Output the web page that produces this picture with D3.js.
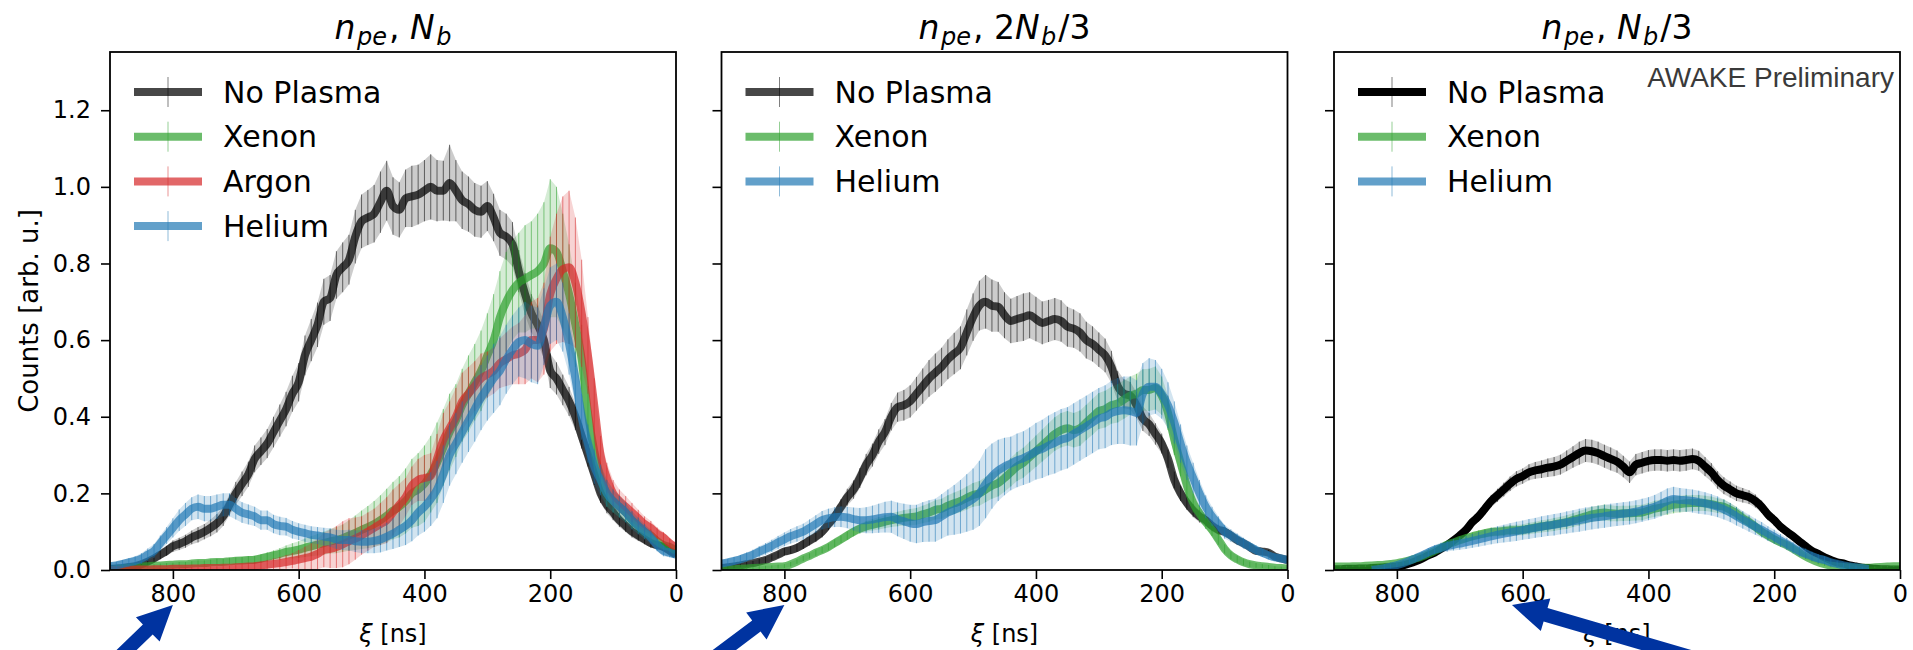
<!DOCTYPE html>
<html><head><meta charset="utf-8">
<script src="https://cdn.jsdelivr.net/npm/d3@7"></script>
<style>html,body{margin:0;padding:0;background:#fff;} svg{display:block;}</style>
</head><body><svg id="c" width="1913" height="650"></svg>
<script>
// ---------- DATA ----------
const XI = [900,890,880,870,860,850,840,830,820,810,
 800,790,780,770,760,750,740,730,720,710,
 700,690,680,670,660,650,640,630,620,610,
 600,590,580,570,560,550,540,530,520,510,
 500,490,480,470,460,450,440,430,420,410,
 400,390,380,370,360,350,340,330,320,310,
 300,290,280,270,260,250,240,230,220,210,
 200,190,180,170,160,150,140,130,120,110,
 100,90,80,70,60,50,40,30,20,10,0];

const X_TICKS = [800,600,400,200,0];
const Y_TICKS = [0,0.2,0.4,0.6,0.8,1.0,1.2];
const Y_TICK_LABELS = ["0.0","0.2","0.4","0.6","0.8","1.0","1.2"];

// Panel 1 (n_pe, N_b)
const NP1 = [.003,.004,.005,.008,.01,.015,.022,.03,.04,.05,
 .062,.068,.075,.085,.092,.1,.11,.122,.14,.17,
 .2,.225,.25,.29,.31,.33,.36,.39,.42,.46,
 .49,.56,.6,.64,.7,.71,.77,.79,.81,.87,
 .91,.92,.93,.96,.99,.95,.94,.97,.975,.98,
 .99,1.0,.99,.99,1.01,.99,.965,.955,.94,.935,
 .95,.92,.88,.87,.85,.78,.72,.67,.64,.6,
 .52,.5,.47,.44,.4,.35,.3,.25,.2,.17,
 .15,.13,.115,.1,.09,.08,.07,.065,.06,.05,.04];
const ERR_NP1 = [.004,.004,.005,.006,.007,.008,.009,.01,.012,.013,
 .015,.016,.017,.018,.02,.02,.022,.024,.025,.027,
 .03,.032,.033,.035,.036,.038,.04,.042,.045,.047,
 .05,.052,.055,.058,.06,.06,.062,.065,.065,.07,
 .07,.072,.075,.08,.078,.075,.072,.075,.08,.078,
 .08,.085,.08,.078,.1,.08,.075,.072,.07,.068,
 .065,.062,.06,.06,.058,.055,.055,.05,.05,.048,
 .045,.042,.04,.038,.035,.033,.03,.028,.025,.022,
 .02,.018,.016,.015,.014,.013,.012,.011,.01,.01,.009];
const XE1 = [0,.002,.004,.006,.008,.009,.01,.011,.012,.013,
 .014,.015,.015,.017,.018,.018,.02,.021,.021,.023,
 .024,.025,.026,.027,.03,.034,.038,.042,.047,.05,
 .053,.058,.062,.066,.07,.075,.078,.083,.09,.097,
 .105,.112,.12,.13,.142,.155,.165,.18,.2,.21,
 .225,.25,.28,.32,.36,.39,.43,.46,.49,.52,
 .56,.6,.66,.7,.73,.75,.76,.77,.78,.8,
 .84,.83,.78,.72,.64,.55,.41,.31,.24,.2,
 .18,.165,.15,.13,.115,.1,.09,.075,.065,.06,.05];
const ERR_XE1 = [.002,.002,.003,.003,.003,.004,.004,.004,.005,.005,
 .005,.006,.006,.006,.007,.007,.007,.008,.008,.008,
 .009,.009,.01,.01,.011,.012,.013,.015,.017,.02,
 .022,.024,.026,.028,.03,.032,.034,.036,.04,.045,
 .05,.055,.06,.065,.07,.075,.08,.085,.09,.095,
 .1,.1,.105,.1,.1,.095,.095,.1,.1,.105,
 .11,.12,.12,.13,.13,.13,.14,.14,.15,.16,
 .18,.17,.15,.13,.11,.09,.07,.05,.04,.035,
 .03,.028,.025,.022,.02,.018,.016,.014,.012,.011,.01];
const AR1 = [0,0,0,.001,.001,.001,.001,.002,.002,.002,
 .003,.003,.003,.004,.004,.005,.005,.005,.006,.006,
 .007,.008,.009,.01,.012,.014,.016,.018,.021,.024,
 .027,.031,.035,.042,.052,.055,.06,.067,.075,.082,
 .09,.1,.11,.12,.13,.15,.17,.19,.22,.235,
 .24,.245,.29,.34,.37,.4,.44,.46,.48,.5,
 .51,.52,.54,.55,.56,.565,.575,.6,.6,.63,
 .72,.76,.785,.79,.75,.67,.56,.43,.3,.24,
 .2,.18,.165,.15,.135,.12,.11,.095,.085,.07,.06];
const ERR_AR1 = [.001,.001,.001,.002,.002,.002,.002,.002,.003,.003,
 .003,.003,.004,.004,.004,.004,.005,.005,.005,.006,
 .006,.007,.008,.009,.01,.012,.014,.016,.018,.02,
 .025,.03,.035,.04,.045,.05,.055,.06,.06,.055,
 .05,.05,.05,.055,.06,.06,.055,.05,.05,.055,
 .06,.06,.065,.07,.07,.075,.075,.07,.065,.065,
 .06,.06,.065,.07,.075,.08,.09,.1,.11,.12,
 .15,.17,.19,.2,.17,.14,.1,.07,.05,.04,
 .035,.03,.028,.025,.022,.02,.018,.016,.014,.012,.01];
const HE1 = [.01,.012,.016,.02,.024,.03,.04,.05,.07,.09,
 .11,.13,.145,.16,.165,.16,.16,.165,.17,.17,
 .16,.15,.145,.14,.13,.13,.12,.115,.113,.105,
 .1,.096,.092,.09,.087,.085,.08,.078,.078,.075,
 .074,.074,.076,.08,.087,.095,.105,.115,.13,.15,
 .165,.185,.21,.25,.3,.33,.36,.39,.42,.45,
 .475,.5,.52,.55,.575,.595,.6,.59,.585,.635,
 .69,.7,.66,.59,.5,.4,.33,.27,.235,.2,
 .18,.165,.15,.13,.115,.1,.085,.065,.05,.045,.04];
const ERR_HE1 = [.008,.009,.01,.011,.012,.014,.016,.018,.02,.022,
 .025,.028,.03,.03,.032,.033,.033,.032,.03,.03,
 .028,.027,.026,.025,.025,.025,.024,.024,.023,.023,
 .022,.022,.022,.022,.023,.024,.025,.026,.027,.028,
 .03,.03,.032,.034,.036,.04,.045,.05,.055,.06,
 .065,.07,.075,.075,.08,.08,.08,.082,.085,.085,
 .085,.09,.09,.09,.09,.09,.1,.1,.1,.1,
 .1,.1,.09,.08,.07,.06,.05,.045,.04,.035,
 .03,.028,.026,.024,.022,.02,.018,.016,.014,.012,.01];

// Panel 2 (n_pe, 2N_b/3)
const NP2 = [.005,.007,.009,.012,.015,.018,.022,.026,.033,.04,
 .048,.052,.058,.067,.077,.087,.1,.12,.14,.165,
 .19,.21,.24,.275,.3,.335,.36,.4,.425,.43,
 .44,.46,.48,.5,.515,.53,.55,.565,.58,.62,
 .66,.69,.7,.69,.687,.665,.65,.655,.66,.665,
 .655,.645,.65,.655,.65,.635,.63,.62,.6,.59,
 .575,.56,.53,.48,.46,.455,.43,.395,.38,.355,
 .33,.29,.235,.2,.175,.155,.14,.13,.115,.105,
 .1,.09,.078,.07,.06,.05,.048,.045,.035,.03,.026];
const ERR_NP2 = [.004,.004,.005,.005,.006,.006,.007,.008,.008,.009,
 .01,.01,.011,.012,.013,.014,.015,.016,.018,.02,
 .022,.024,.026,.028,.03,.032,.034,.036,.038,.04,
 .042,.044,.046,.048,.05,.05,.052,.054,.056,.06,
 .062,.065,.07,.068,.065,.06,.058,.06,.062,.06,
 .058,.056,.055,.055,.054,.052,.05,.05,.048,.046,
 .045,.044,.042,.04,.038,.036,.034,.032,.03,.028,
 .026,.024,.022,.02,.018,.017,.016,.015,.014,.013,
 .012,.011,.011,.01,.01,.009,.009,.008,.008,.007,.007];
const XE2 = [0,.001,.002,.003,.004,.005,.006,.007,.008,.009,
 .01,.015,.022,.03,.037,.045,.052,.06,.07,.08,
 .09,.1,.108,.114,.118,.122,.126,.13,.133,.136,
 .138,.14,.145,.15,.157,.16,.168,.174,.18,.188,
 .196,.2,.21,.22,.227,.24,.255,.27,.28,.295,
 .31,.325,.34,.355,.365,.37,.365,.37,.385,.4,
 .415,.42,.43,.435,.445,.455,.46,.47,.47,.475,
 .455,.41,.34,.28,.22,.175,.148,.125,.105,.08,
 .055,.038,.028,.02,.015,.012,.01,.008,.006,.005,.004];
const ERR_XE2 = [.002,.002,.002,.003,.003,.003,.004,.004,.004,.005,
 .005,.006,.006,.007,.007,.008,.008,.009,.01,.01,
 .011,.012,.013,.014,.015,.016,.017,.018,.019,.02,
 .021,.022,.023,.024,.025,.026,.027,.028,.029,.03,
 .031,.032,.033,.034,.035,.036,.037,.038,.039,.04,
 .041,.042,.043,.044,.045,.045,.045,.046,.046,.047,
 .047,.048,.048,.05,.05,.05,.052,.054,.055,.056,
 .05,.045,.04,.035,.03,.025,.02,.018,.016,.014,
 .012,.01,.009,.008,.007,.006,.005,.005,.004,.004,.004];
const HE2 = [.017,.02,.024,.028,.034,.04,.048,.055,.063,.072,
 .08,.088,.094,.1,.11,.12,.13,.135,.138,.139,
 .137,.133,.13,.13,.132,.135,.138,.139,.132,.127,
 .122,.12,.125,.128,.13,.14,.15,.157,.165,.175,
 .185,.2,.225,.245,.26,.27,.278,.286,.292,.3,
 .31,.316,.325,.332,.34,.345,.355,.365,.375,.385,
 .395,.4,.41,.415,.417,.415,.41,.46,.478,.478,
 .46,.43,.385,.33,.28,.24,.2,.165,.14,.12,
 .1,.09,.08,.07,.061,.052,.045,.038,.033,.03,.026];
const ERR_HE2 = [.008,.009,.01,.011,.012,.013,.014,.015,.016,.017,
 .018,.019,.02,.021,.022,.023,.024,.025,.026,.027,
 .028,.03,.032,.034,.036,.038,.04,.042,.044,.046,
 .048,.05,.052,.054,.056,.058,.06,.065,.07,.075,
 .08,.085,.09,.085,.08,.075,.07,.07,.07,.072,
 .074,.076,.078,.08,.08,.08,.08,.08,.08,.08,
 .08,.082,.084,.086,.088,.09,.085,.08,.075,.07,
 .065,.06,.055,.05,.045,.04,.035,.03,.025,.02,
 .018,.016,.015,.014,.013,.012,.011,.01,.009,.008,.008];

// Panel 3 (n_pe, N_b/3)
const NP3 = [.002,.002,.003,.003,.004,.004,.005,.006,.007,.008,
 .009,.012,.017,.023,.03,.038,.045,.055,.065,.077,
 .09,.105,.125,.14,.16,.18,.195,.21,.225,.238,
 .245,.255,.26,.263,.267,.27,.275,.285,.295,.305,
 .312,.31,.305,.297,.29,.283,.27,.255,.275,.28,
 .285,.287,.287,.285,.287,.285,.287,.29,.285,.27,
 .255,.235,.22,.21,.2,.195,.19,.18,.165,.145,
 .13,.113,.1,.088,.075,.062,.05,.042,.033,.026,
 .02,.017,.012,.009,.006,.005,.003,.002,.002,.001,.001];
const ERR_NP3 = [.002,.002,.002,.002,.002,.002,.003,.003,.003,.003,
 .004,.004,.005,.005,.006,.006,.007,.008,.009,.01,
 .011,.012,.013,.014,.015,.016,.017,.018,.019,.02,
 .02,.021,.022,.023,.024,.025,.026,.027,.028,.03,
 .03,.03,.03,.03,.03,.029,.028,.028,.028,.028,
 .028,.028,.028,.028,.028,.028,.028,.027,.026,.025,
 .024,.023,.022,.021,.02,.019,.018,.017,.016,.015,
 .014,.013,.012,.011,.01,.009,.008,.007,.006,.005,
 .005,.004,.004,.003,.003,.003,.002,.002,.002,.002,.002];
const XE3 = [.009,.009,.009,.01,.01,.011,.012,.013,.014,.016,
 .018,.021,.025,.03,.035,.042,.05,.058,.066,.072,
 .078,.083,.088,.092,.096,.099,.1,.102,.104,.104,
 .105,.108,.111,.114,.116,.119,.122,.125,.13,.135,
 .14,.145,.148,.15,.148,.147,.148,.148,.149,.15,
 .155,.16,.163,.166,.17,.172,.174,.175,.175,.174,
 .172,.168,.165,.157,.148,.135,.125,.113,.1,.09,
 .08,.072,.065,.055,.045,.035,.027,.02,.015,.011,
 .009,.008,.007,.006,.006,.006,.007,.008,.009,.01,.01];
const ERR_XE3 = [.002,.002,.002,.002,.003,.003,.003,.003,.004,.004,
 .004,.005,.005,.006,.006,.007,.007,.008,.008,.009,
 .009,.01,.01,.011,.011,.012,.012,.013,.013,.014,
 .014,.015,.015,.016,.016,.017,.017,.018,.018,.019,
 .019,.02,.02,.021,.021,.02,.02,.02,.02,.02,
 .02,.021,.021,.022,.022,.022,.022,.021,.021,.02,
 .02,.019,.019,.018,.017,.016,.015,.014,.013,.012,
 .011,.01,.009,.008,.007,.006,.005,.005,.004,.004,
 .003,.003,.003,.003,.002,.002,.002,.002,.002,.002,.002];
const HE3 = [null,null,null,null,null,null,0,.002,.005,.009,
 .013,.018,.024,.031,.038,.046,.053,.058,.062,.066,
 .069,.072,.076,.08,.084,.088,.092,.095,.098,.101,
 .104,.107,.11,.113,.116,.118,.121,.124,.127,.13,
 .133,.136,.138,.14,.143,.145,.147,.149,.152,.156,
 .16,.165,.172,.18,.185,.183,.182,.18,.177,.174,
 .17,.165,.158,.15,.14,.131,.122,.113,.105,.095,
 .087,.077,.068,.058,.049,.043,.036,.03,.026,.02,
 .016,.012,.009,.007,.005,.003,null,null,null,null,null];
const ERR_HE3 = [0,0,0,0,0,0,.002,.003,.004,.005,
 .006,.007,.008,.009,.01,.011,.012,.013,.014,.015,
 .016,.017,.018,.019,.02,.021,.022,.023,.024,.025,
 .025,.026,.026,.027,.027,.028,.028,.029,.029,.03,
 .03,.03,.03,.03,.03,.03,.03,.03,.03,.03,
 .03,.031,.032,.033,.032,.031,.03,.03,.03,.029,
 .028,.027,.026,.025,.024,.023,.022,.021,.02,.019,
 .018,.017,.016,.015,.014,.013,.012,.011,.01,.009,
 .008,.007,.006,.005,.004,.003,0,0,0,0,0];

// ---------- CONFIG ----------
const COL = {np:"#000000", xe:"#2ca02c", ar:"#d62728", he:"#1f77b4"};
const PANELS = [
  {title:[["n","i"],["pe","s"],[", ","r"],["N","i"],["b","s"]],
   series:[
    {name:"No Plasma", color:COL.np, alpha:0.72, v:NP1, e:ERR_NP1},
    {name:"Xenon", color:COL.xe, alpha:0.7, v:XE1, e:ERR_XE1},
    {name:"Argon", color:COL.ar, alpha:0.7, v:AR1, e:ERR_AR1},
    {name:"Helium", color:COL.he, alpha:0.7, v:HE1, e:ERR_HE1}]},
  {title:[["n","i"],["pe","s"],[", 2","r"],["N","i"],["b","s"],["/3","r"]],
   series:[
    {name:"No Plasma", color:COL.np, alpha:0.72, v:NP2, e:ERR_NP2},
    {name:"Xenon", color:COL.xe, alpha:0.7, v:XE2, e:ERR_XE2},
    {name:"Helium", color:COL.he, alpha:0.7, v:HE2, e:ERR_HE2}]},
  {title:[["n","i"],["pe","s"],[", ","r"],["N","i"],["b","s"],["/3","r"]],
   series:[
    {name:"No Plasma", color:COL.np, alpha:1.0, v:NP3, e:ERR_NP3},
    {name:"Xenon", color:COL.xe, alpha:0.7, v:XE3, e:ERR_XE3},
    {name:"Helium", color:COL.he, alpha:0.7, v:HE3, e:ERR_HE3}]}
];
const ARROWS = [
  {panel:0, xi:800, dir:[-0.72,0.70], len:130},
  {panel:1, xi:800, dir:[-0.80,0.60], len:130},
  {panel:2, xi:617, dir:[0.96,0.28], len:260}
];

// ---------- LAYOUT ----------
const PANEL_LEFT = [110, 721.5, 1334];
const PANEL_W = 566;
const TOP = 52, BOTTOM = 570;
const FONT = "DejaVu Sans";

const svg = d3.select("#c");
svg.append("rect").attr("width",1913).attr("height",650).attr("fill","#fff");

const yScale = d3.scaleLinear().domain([0,1.352]).range([BOTTOM,TOP]);

PANELS.forEach((P, pi) => {
  const L = PANEL_LEFT[pi];
  const x = d3.scaleLinear().domain([900,0]).range([L, L+PANEL_W]);
  const g = svg.append("g");
  const clipId = "clip"+pi;
  svg.append("clipPath").attr("id",clipId).append("rect")
    .attr("x",L).attr("y",TOP).attr("width",PANEL_W).attr("height",BOTTOM-TOP);
  const plot = g.append("g").attr("clip-path",`url(#${clipId})`);

  P.series.forEach(s => {
    const pts = XI.map((xi,i)=>({xi, v:s.v[i], e:s.e[i]})).filter(d=>d.v!==null);
    plot.append("path").datum(pts)
      .attr("d", d3.area().x(d=>x(d.xi)).y0(d=>yScale(Math.max(0,d.v-d.e))).y1(d=>yScale(d.v+d.e)))
      .attr("fill", s.color).attr("fill-opacity", 0.2).attr("stroke","none");
    plot.append("g").selectAll("line").data(pts).join("line")
      .attr("x1",d=>x(d.xi)).attr("x2",d=>x(d.xi))
      .attr("y1",d=>yScale(d.v-d.e)).attr("y2",d=>yScale(d.v+d.e))
      .attr("stroke",s.color).attr("stroke-opacity",0.55).attr("stroke-width",1);
    plot.append("path").datum(pts)
      .attr("d", d3.line().x(d=>x(d.xi)).y(d=>yScale(d.v)).curve(d3.curveMonotoneX))
      .attr("fill","none").attr("stroke",s.color).attr("stroke-opacity",s.alpha)
      .attr("stroke-width",8).attr("stroke-linejoin","round");
  });

  g.append("rect").attr("x",L).attr("y",TOP).attr("width",PANEL_W).attr("height",BOTTOM-TOP)
    .attr("fill","none").attr("stroke","#000").attr("stroke-width",1.8);

  const xa = g.append("g").attr("transform",`translate(0,${BOTTOM})`)
    .call(d3.axisBottom(x).tickValues(X_TICKS).tickSize(9).tickPadding(6).tickFormat(d3.format("d")));
  xa.select(".domain").remove();
  xa.selectAll("line").attr("stroke","#000").attr("stroke-width",1.6);
  xa.selectAll("text").attr("font-family",FONT).attr("font-size",24).attr("fill","#000");

  const ya = g.append("g").attr("transform",`translate(${L},0)`)
    .call(d3.axisLeft(yScale).tickValues(Y_TICKS).tickSize(9).tickPadding(10)
      .tickFormat((d,i)=> pi===0 ? Y_TICK_LABELS[i] : ""));
  ya.select(".domain").remove();
  ya.selectAll("line").attr("stroke","#000").attr("stroke-width",1.6);
  ya.selectAll("text").attr("font-family",FONT).attr("font-size",24).attr("fill","#000");

  // title (mathtext-like)
  const t = g.append("text").attr("x",L+PANEL_W/2).attr("y",39).attr("text-anchor","middle")
    .attr("font-family",FONT).attr("font-size",33).attr("fill","#000");
  let shifted = false;
  P.title.forEach(([txt,kind]) => {
    const ts = t.append("tspan").text(txt);
    if (kind==="s") { ts.attr("font-size",24).attr("font-style","italic").attr("dy",6).attr("dx",1.5); shifted=true; }
    else {
      if (kind==="i") ts.attr("font-style","italic");
      if (shifted) { ts.attr("dy",-6).attr("dx",2); shifted=false; }
    }
  });

  const xl = g.append("text").attr("x",L+PANEL_W/2).attr("y",642).attr("text-anchor","middle")
    .attr("font-family",FONT).attr("font-size",24).attr("fill","#000");
  xl.append("tspan").attr("font-style","italic").text("ξ");
  xl.append("tspan").text(" [ns]");

  P.series.forEach((s, k) => {
    const yy = 92 + k*44.7;
    g.append("line").attr("x1",L+24).attr("x2",L+92).attr("y1",yy).attr("y2",yy)
      .attr("stroke",s.color).attr("stroke-opacity",s.alpha).attr("stroke-width",8);
    g.append("line").attr("x1",L+58).attr("x2",L+58).attr("y1",yy-15).attr("y2",yy+15)
      .attr("stroke",s.color).attr("stroke-opacity",0.5).attr("stroke-width",1);
    g.append("text").attr("x",L+113).attr("y",yy+10.5).attr("font-family",FONT)
      .attr("font-size",30).attr("fill","#000").text(s.name);
  });

  P.x = x;
});

svg.append("text").attr("transform","translate(38,311) rotate(-90)").attr("text-anchor","middle")
  .attr("font-family",FONT).attr("font-size",26).attr("fill","#000").text("Counts [arb. u.]");

svg.append("text").attr("x",1894).attr("y",87).attr("text-anchor","end")
  .attr("font-family","Liberation Sans, Arial, sans-serif").attr("font-size",28).attr("fill","#3a3a3a")
  .text("AWAKE Preliminary");

const HL = 35, HW = 34, SW = 14;
ARROWS.forEach(a => {
  const tx = PANELS[a.panel].x(a.xi), ty = BOTTOM + 35;
  const n0 = Math.hypot(a.dir[0],a.dir[1]);
  const d = [a.dir[0]/n0, a.dir[1]/n0];
  const n = [-d[1], d[0]];
  const B = [tx + d[0]*HL, ty + d[1]*HL];
  const T = [tx + d[0]*a.len, ty + d[1]*a.len];
  const pts = [
    [tx,ty],
    [B[0]+n[0]*HW/2, B[1]+n[1]*HW/2],
    [B[0]+n[0]*SW/2, B[1]+n[1]*SW/2],
    [T[0]+n[0]*SW/2, T[1]+n[1]*SW/2],
    [T[0]-n[0]*SW/2, T[1]-n[1]*SW/2],
    [B[0]-n[0]*SW/2, B[1]-n[1]*SW/2],
    [B[0]-n[0]*HW/2, B[1]-n[1]*HW/2]
  ];
  svg.append("polygon").attr("points", pts.map(p=>p.join(",")).join(" ")).attr("fill","#0033a0");
});
</script></body></html>
